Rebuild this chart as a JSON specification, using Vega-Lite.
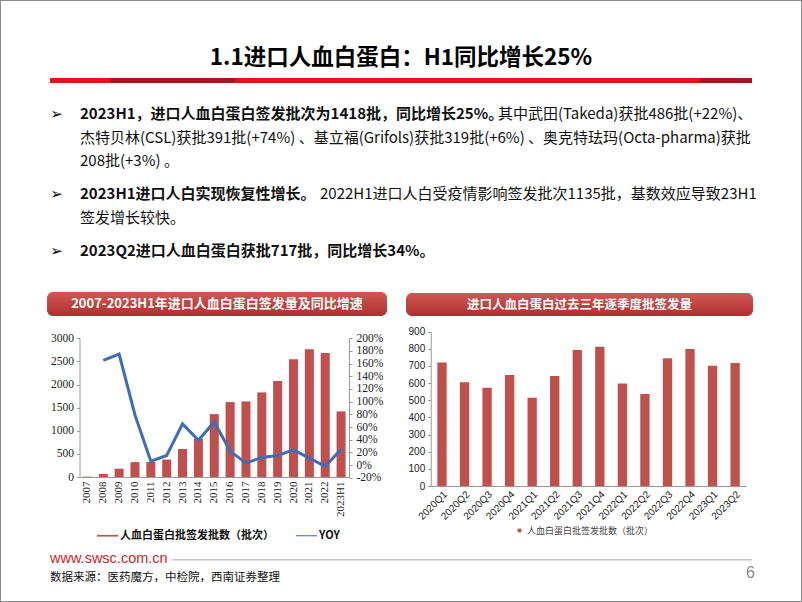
{
"$schema":"https://vega.github.io/schema/vega-lite/v6.json",
"width":802,"height":602,"autosize":{"type":"none"},"padding":0,"background":"#ffffff",
"config":{"view":{"stroke":"#8a8a8a","strokeWidth":2},"font":"Noto Sans CJK SC"},
"layer":[
{"data":{"values":[{"k":"title","t":"1.1进口人血白蛋白：H1同比增长25%"}]},"mark":{"type":"text","align":"center","baseline":"middle","font":"Noto Sans CJK SC","fontSize":22.5,"fontWeight":"bold","color":"#000000"},
 "encoding":{"x":{"field":"k","type":"nominal","axis":null,"scale":{"range":[401,401]}},"y":{"field":"k","type":"nominal","axis":null,"scale":{"range":[58,58]}},"text":{"field":"t"}}},
{"data":{"values":[{"k":"r1"}]},"mark":{"type":"rect","color":"#e3141b"},
 "encoding":{"x":{"field":"k","type":"nominal","axis":null,"scale":{"range":[50,752],"paddingInner":0,"paddingOuter":0}},"y":{"field":"k","type":"nominal","axis":null,"scale":{"range":[78,83],"paddingInner":0,"paddingOuter":0}}}},
{"data":{"values":[{"k":"r2"}]},"mark":{"type":"rect","color":"#9c1c1f"},
 "encoding":{"x":{"field":"k","type":"nominal","axis":null,"scale":{"range":[111,235],"paddingInner":0,"paddingOuter":0}},"y":{"field":"k","type":"nominal","axis":null,"scale":{"range":[78,83],"paddingInner":0,"paddingOuter":0}}}},
{"data":{"values":[{"k":"r3"}]},"mark":{"type":"rect","color":"#9c1c1f"},
 "encoding":{"x":{"field":"k","type":"nominal","axis":null,"scale":{"range":[700,752],"paddingInner":0,"paddingOuter":0}},"y":{"field":"k","type":"nominal","axis":null,"scale":{"range":[78,83],"paddingInner":0,"paddingOuter":0}}}},
{"data":{"values":[{"k":"a1","t":"➢"}]},"mark":{"type":"text","align":"center","baseline":"middle","font":"DejaVu Sans","fontSize":15,"color":"#000000"},
 "encoding":{"x":{"field":"k","type":"nominal","axis":null,"scale":{"range":[56.5,56.5]}},"y":{"field":"k","type":"nominal","axis":null,"scale":{"range":[114,114]}},"text":{"field":"t"}}},
{"data":{"values":[{"k":"a2","t":"➢"}]},"mark":{"type":"text","align":"center","baseline":"middle","font":"DejaVu Sans","fontSize":15,"color":"#000000"},
 "encoding":{"x":{"field":"k","type":"nominal","axis":null,"scale":{"range":[56.5,56.5]}},"y":{"field":"k","type":"nominal","axis":null,"scale":{"range":[194,194]}},"text":{"field":"t"}}},
{"data":{"values":[{"k":"a3","t":"➢"}]},"mark":{"type":"text","align":"center","baseline":"middle","font":"DejaVu Sans","fontSize":15,"color":"#000000"},
 "encoding":{"x":{"field":"k","type":"nominal","axis":null,"scale":{"range":[56.5,56.5]}},"y":{"field":"k","type":"nominal","axis":null,"scale":{"range":[251,251]}},"text":{"field":"t"}}},
{"data":{"values":[{"k":"b1","t":"2023H1，进口人血白蛋白签发批次为1418批，同比增长25%。"}]},"mark":{"type":"text","align":"left","baseline":"middle","font":"Noto Sans CJK SC","fontSize":15,"fontWeight":"bold","color":"#111111"},
 "encoding":{"x":{"field":"k","type":"nominal","axis":null,"scale":{"range":[80,80]}},"y":{"field":"k","type":"nominal","axis":null,"scale":{"range":[114,114]}},"text":{"field":"t"}}},
{"data":{"values":[{"k":"r1","t":"其中武田(Takeda)获批486批(+22%)、"}]},"mark":{"type":"text","align":"left","baseline":"middle","font":"Noto Sans CJK SC","fontSize":15,"color":"#111111"},
 "encoding":{"x":{"field":"k","type":"nominal","axis":null,"scale":{"range":[498,498]}},"y":{"field":"k","type":"nominal","axis":null,"scale":{"range":[114,114]}},"text":{"field":"t"}}},
{"data":{"values":[{"k":"r2","t":"杰特贝林(CSL)获批391批(+74%) 、基立福(Grifols)获批319批(+6%) 、奥克特珐玛(Octa-pharma)获批"}]},"mark":{"type":"text","align":"left","baseline":"middle","font":"Noto Sans CJK SC","fontSize":15,"color":"#111111"},
 "encoding":{"x":{"field":"k","type":"nominal","axis":null,"scale":{"range":[80,80]}},"y":{"field":"k","type":"nominal","axis":null,"scale":{"range":[138,138]}},"text":{"field":"t"}}},
{"data":{"values":[{"k":"r3","t":"208批(+3%) 。"}]},"mark":{"type":"text","align":"left","baseline":"middle","font":"Noto Sans CJK SC","fontSize":15,"color":"#111111"},
 "encoding":{"x":{"field":"k","type":"nominal","axis":null,"scale":{"range":[80,80]}},"y":{"field":"k","type":"nominal","axis":null,"scale":{"range":[161,161]}},"text":{"field":"t"}}},
{"data":{"values":[{"k":"b4","t":"2023H1进口人白实现恢复性增长。"}]},"mark":{"type":"text","align":"left","baseline":"middle","font":"Noto Sans CJK SC","fontSize":15,"fontWeight":"bold","color":"#111111"},
 "encoding":{"x":{"field":"k","type":"nominal","axis":null,"scale":{"range":[80,80]}},"y":{"field":"k","type":"nominal","axis":null,"scale":{"range":[194,194]}},"text":{"field":"t"}}},
{"data":{"values":[{"k":"r4","t":"2022H1进口人白受疫情影响签发批次1135批，基数效应导致23H1"}]},"mark":{"type":"text","align":"left","baseline":"middle","font":"Noto Sans CJK SC","fontSize":15,"color":"#111111"},
 "encoding":{"x":{"field":"k","type":"nominal","axis":null,"scale":{"range":[320,320]}},"y":{"field":"k","type":"nominal","axis":null,"scale":{"range":[194,194]}},"text":{"field":"t"}}},
{"data":{"values":[{"k":"r5","t":"签发增长较快。"}]},"mark":{"type":"text","align":"left","baseline":"middle","font":"Noto Sans CJK SC","fontSize":15,"color":"#111111"},
 "encoding":{"x":{"field":"k","type":"nominal","axis":null,"scale":{"range":[80,80]}},"y":{"field":"k","type":"nominal","axis":null,"scale":{"range":[218,218]}},"text":{"field":"t"}}},
{"data":{"values":[{"k":"b6","t":"2023Q2进口人血白蛋白获批717批，同比增长34%。"}]},"mark":{"type":"text","align":"left","baseline":"middle","font":"Noto Sans CJK SC","fontSize":15,"fontWeight":"bold","color":"#111111"},
 "encoding":{"x":{"field":"k","type":"nominal","axis":null,"scale":{"range":[80,80]}},"y":{"field":"k","type":"nominal","axis":null,"scale":{"range":[251,251]}},"text":{"field":"t"}}},
{"data":{"values":[{"k":"hl","t":"2007-2023H1年进口人血白蛋白签发量及同比增速"}]},
 "layer":[
  {"mark":{"type":"rect","cornerRadius":6,"fill":{"gradient":"linear","x1":0,"y1":0,"x2":0,"y2":1,"stops":[{"offset":0,"color":"#cf5855"},{"offset":1,"color":"#b0302e"}]}},
   "encoding":{"x":{"field":"k","type":"nominal","axis":null,"scale":{"range":[47,387],"paddingInner":0,"paddingOuter":0}},"y":{"field":"k","type":"nominal","axis":null,"scale":{"range":[292,316],"paddingInner":0,"paddingOuter":0}}}},
  {"mark":{"type":"text","align":"center","baseline":"middle","font":"Noto Sans CJK SC","fontSize":13,"fontWeight":"bold","color":"#ffffff"},
   "encoding":{"x":{"field":"k","type":"nominal"},"y":{"field":"k","type":"nominal"},"text":{"field":"t"}}}
 ]},
{"data":{"values":[{"k":"hr","t":"进口人血白蛋白过去三年逐季度批签发量"}]},
 "layer":[
  {"mark":{"type":"rect","cornerRadius":6,"fill":{"gradient":"linear","x1":0,"y1":0,"x2":0,"y2":1,"stops":[{"offset":0,"color":"#cf5855"},{"offset":1,"color":"#b0302e"}]}},
   "encoding":{"x":{"field":"k","type":"nominal","axis":null,"scale":{"range":[406,753],"paddingInner":0,"paddingOuter":0}},"y":{"field":"k","type":"nominal","axis":null,"scale":{"range":[293,316],"paddingInner":0,"paddingOuter":0}}}},
  {"mark":{"type":"text","align":"center","baseline":"middle","font":"Noto Sans CJK SC","fontSize":12.5,"fontWeight":"bold","color":"#ffffff"},
   "encoding":{"x":{"field":"k","type":"nominal"},"y":{"field":"k","type":"nominal"},"text":{"field":"t"}}}
 ]},
{"data":{"values":[
 {"year":"2007","cnt":8,"yoy":null},
 {"year":"2008","cnt":65,"yoy":165},
 {"year":"2009","cnt":180,"yoy":175},
 {"year":"2010","cnt":322,"yoy":79},
 {"year":"2011","cnt":325,"yoy":6},
 {"year":"2012","cnt":377,"yoy":15},
 {"year":"2013","cnt":605,"yoy":65},
 {"year":"2014","cnt":828,"yoy":39},
 {"year":"2015","cnt":1360,"yoy":68},
 {"year":"2016","cnt":1620,"yoy":22},
 {"year":"2017","cnt":1635,"yoy":3},
 {"year":"2018","cnt":1830,"yoy":12},
 {"year":"2019","cnt":2075,"yoy":15},
 {"year":"2020","cnt":2545,"yoy":24},
 {"year":"2021","cnt":2765,"yoy":11},
 {"year":"2022","cnt":2680,"yoy":-2},
 {"year":"2023H1","cnt":1418,"yoy":25}
 ]},
 "layer":[
  {"mark":{"type":"bar"},
   "encoding":{
    "x":{"field":"year","type":"nominal","sort":null,"scale":{"range":[79.5,349],"paddingInner":0.43,"paddingOuter":0.215},
         "axis":{"orient":"bottom","offset":-125,"title":null,"labelAngle":270,"labelFont":"Liberation Serif","labelFontSize":11,"labelColor":"#222222","labelPadding":4,"ticks":false,"domainColor":"#9a9a9a","grid":false}},
    "y":{"field":"cnt","type":"quantitative","scale":{"domain":[0,3000],"range":[477,338.3],"nice":false,"zero":true},
         "axis":{"orient":"left","offset":-79.5,"title":null,"values":[0,500,1000,1500,2000,2500,3000],"format":"d","labelFont":"Liberation Serif","labelFontSize":11.5,"labelColor":"#222222","labelPadding":3,"tickSize":3,"tickColor":"#9a9a9a","domainColor":"#9a9a9a","grid":false}},
    "color":{"datum":"人血白蛋白批签发批数（批次）","type":"nominal",
      "scale":{"domain":["人血白蛋白批签发批数（批次）","YOY"],"range":["#c0504d","#3e6eb8"]},
      "legend":{"orient":"none","legendX":97,"legendY":525,"direction":"horizontal","title":null,
        "labelFont":"Noto Sans CJK SC","labelFontSize":11,"labelFontWeight":"bold","labelColor":"#111111","labelOffset":2,"columnPadding":22,
        "symbolType":"M-1,-0.08H1V0.08H-1Z","symbolSize":441,"symbolStrokeWidth":0,
        "encode":{"symbols":{"update":{
          "shape":{"signal":"datum.value === 'YOY' ? 'M-1,-0.05H1V0.05H-1Z' : 'M-1,-0.08H1V0.08H-1Z'"},
          "fill":{"signal":"datum.value === 'YOY' ? '#3e6eb8' : '#c0504d'"},
          "strokeWidth":{"value":0},"opacity":{"value":1}}}}}}
   }},
  {"mark":{"type":"line","strokeWidth":3},
   "encoding":{
    "x":{"field":"year","type":"nominal","sort":null},
    "y":{"field":"yoy","type":"quantitative","scale":{"domain":[-20,200],"range":[477.7,338.3],"nice":false,"zero":false},
         "axis":{"orient":"right","offset":-453,"title":null,"values":[-20,0,20,40,60,80,100,120,140,160,180,200],"labelExpr":"datum.value + '%'","labelFont":"Liberation Serif","labelFontSize":11.5,"labelColor":"#222222","labelPadding":4,"tickSize":3,"tickColor":"#9a9a9a","domainColor":"#9a9a9a","grid":false}},
    "color":{"datum":"YOY","type":"nominal"}
   }}
 ],
 "resolve":{"scale":{"y":"independent"}}
},
{"data":{"values":[
 {"q":"2020Q1","cnt":720},{"q":"2020Q2","cnt":605},{"q":"2020Q3","cnt":573},{"q":"2020Q4","cnt":647},
 {"q":"2021Q1","cnt":515},{"q":"2021Q2","cnt":641},{"q":"2021Q3","cnt":793},{"q":"2021Q4","cnt":812},
 {"q":"2022Q1","cnt":598},{"q":"2022Q2","cnt":537},{"q":"2022Q3","cnt":745},{"q":"2022Q4","cnt":799},
 {"q":"2023Q1","cnt":701},{"q":"2023Q2","cnt":717}
 ]},
 "mark":{"type":"bar"},
 "encoding":{
  "x":{"field":"q","type":"nominal","sort":null,"scale":{"range":[430.7,746.4],"paddingInner":0.587,"paddingOuter":0.2935},
       "axis":{"orient":"bottom","offset":-116,"title":null,"labelAngle":-45,"labelFont":"Liberation Sans","labelFontSize":10,"labelColor":"#222222","labelPadding":3,"ticks":false,"domainColor":"#9a9a9a","grid":false}},
  "y":{"field":"cnt","type":"quantitative","scale":{"domain":[0,900],"range":[486,331.7],"nice":false},
       "axis":{"orient":"left","offset":-430.7,"title":null,"values":[0,100,200,300,400,500,600,700,800,900],"format":"d","labelFont":"Liberation Sans","labelFontSize":10,"labelColor":"#222222","labelPadding":3,"tickSize":3,"tickColor":"#9a9a9a","domainColor":"#9a9a9a","grid":false}},
  "color":{"datum":"人血白蛋白批签发批数（批次）","type":"nominal",
    "scale":{"domain":["人血白蛋白批签发批数（批次）"],"range":["#c0504d"]},
    "legend":{"orient":"none","legendX":515,"legendY":526,"title":null,"labelFont":"Noto Sans CJK SC","labelFontSize":9,"labelColor":"#444444","labelOffset":3,
      "symbolType":"square","symbolSize":14,"symbolStrokeWidth":0}}
 }},
{"data":{"values":[{"k":"fr"}]},"mark":{"type":"rect","color":"#c8c8c8"},
 "encoding":{"x":{"field":"k","type":"nominal","axis":null,"scale":{"range":[172,752],"paddingInner":0,"paddingOuter":0}},"y":{"field":"k","type":"nominal","axis":null,"scale":{"range":[559,560.5],"paddingInner":0,"paddingOuter":0}}}},
{"data":{"values":[{"k":"url","t":"www.swsc.com.cn"}]},"mark":{"type":"text","align":"left","baseline":"middle","font":"Liberation Sans","fontSize":14.5,"color":"#cc1f2a"},
 "encoding":{"x":{"field":"k","type":"nominal","axis":null,"scale":{"range":[50,50]}},"y":{"field":"k","type":"nominal","axis":null,"scale":{"range":[559,559]}},"text":{"field":"t"}}},
{"data":{"values":[{"k":"src","t":"数据来源：医药魔方，中检院，西南证券整理"}]},"mark":{"type":"text","align":"left","baseline":"middle","font":"Noto Sans CJK SC","fontSize":11.5,"color":"#111111"},
 "encoding":{"x":{"field":"k","type":"nominal","axis":null,"scale":{"range":[50,50]}},"y":{"field":"k","type":"nominal","axis":null,"scale":{"range":[578,578]}},"text":{"field":"t"}}},
{"data":{"values":[{"k":"pg","t":"6"}]},"mark":{"type":"text","align":"right","baseline":"middle","font":"Liberation Sans","fontSize":16,"color":"#8c8c8c"},
 "encoding":{"x":{"field":"k","type":"nominal","axis":null,"scale":{"range":[755,755]}},"y":{"field":"k","type":"nominal","axis":null,"scale":{"range":[573,573]}},"text":{"field":"t"}}}
],
"resolve":{"scale":{"x":"independent","y":"independent","color":"independent"},"axis":{"x":"independent","y":"independent"},"legend":{"color":"independent"}}
}
